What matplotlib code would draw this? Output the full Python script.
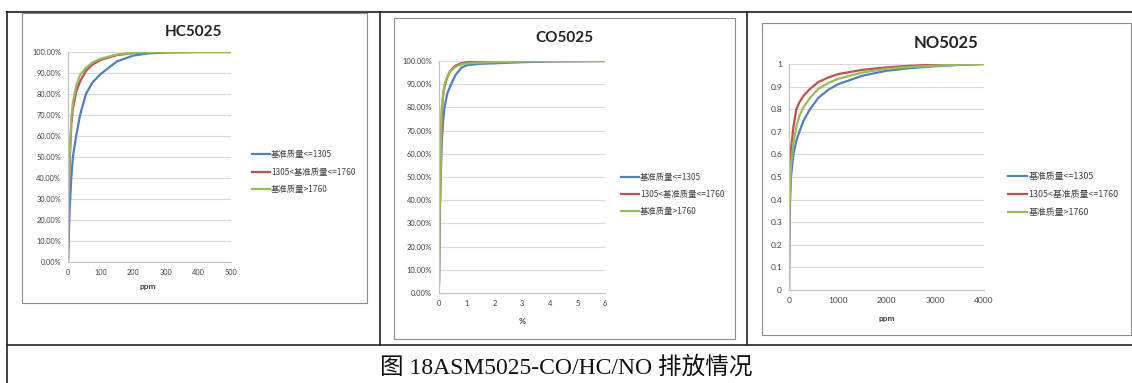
import numpy as np
import matplotlib
matplotlib.use("Agg")
from matplotlib import pyplot as plt
from matplotlib.patches import Rectangle
from matplotlib.lines import Line2D
from matplotlib.ticker import PercentFormatter

plt.rcParams['font.family'] = ['Lato', 'Noto Sans CJK SC', 'DejaVu Sans']

W, H = 1132, 383

series_names = ['基准质量<=1305', '1305<基准质量<=1760', '基准质量>1760']
colors = ['#4F81BD', '#C0504D', '#9BBB59']

# HC5025 (ppm)
hc_x = [0, 2, 5, 10, 15, 25, 37, 55, 75, 100, 150, 200, 250, 300, 400, 500]
hc_small = [0, 0.10, 0.25, 0.40, 0.50, 0.60, 0.70, 0.80, 0.855, 0.895, 0.955, 0.983, 0.994, 0.998, 1.0, 1.0]
hc_mid = [0, 0.30, 0.48, 0.65, 0.73, 0.81, 0.86, 0.91, 0.94, 0.962, 0.985, 0.995, 0.998, 0.999, 1.0, 1.0]
hc_big = [0, 0.32, 0.50, 0.68, 0.76, 0.84, 0.89, 0.925, 0.95, 0.968, 0.988, 0.996, 0.999, 1.0, 1.0, 1.0]

# CO5025 (%)
co_x = [0, 0.02, 0.05, 0.1, 0.15, 0.2, 0.3, 0.4, 0.5, 0.6, 0.8, 1.0, 1.5, 2, 3, 4, 5, 6]
co_small = [0.04, 0.30, 0.45, 0.65, 0.74, 0.80, 0.86, 0.89, 0.915, 0.94, 0.97, 0.982, 0.988, 0.99, 0.995, 0.998, 0.999, 1.0]
co_mid = [0.04, 0.32, 0.48, 0.78, 0.85, 0.89, 0.93, 0.955, 0.97, 0.98, 0.99, 0.995, 0.997, 0.998, 0.999, 1.0, 1.0, 1.0]
co_big = [0.04, 0.35, 0.50, 0.80, 0.86, 0.90, 0.935, 0.955, 0.965, 0.975, 0.985, 0.99, 0.993, 0.995, 0.998, 0.999, 1.0, 1.0]

# NO5025 (ppm)
no_x = [0, 5, 10, 20, 40, 90, 150, 212, 300, 431, 600, 800, 1000, 1500, 2000, 2500, 3000, 3500, 4000]
no_small = [0, 0.20, 0.30, 0.38, 0.50, 0.60, 0.66, 0.70, 0.75, 0.80, 0.85, 0.885, 0.91, 0.948, 0.97, 0.982, 0.99, 0.996, 1.0]
no_mid = [0, 0.30, 0.42, 0.52, 0.62, 0.72, 0.80, 0.83, 0.86, 0.89, 0.92, 0.94, 0.955, 0.974, 0.985, 0.992, 0.997, 0.999, 1.0]
no_big = [0, 0.25, 0.35, 0.45, 0.55, 0.65, 0.72, 0.77, 0.81, 0.85, 0.89, 0.915, 0.934, 0.962, 0.979, 0.987, 0.993, 0.997, 1.0]

caption = '图 18ASM5025-CO/HC/NO 排放情况'

fig = plt.figure(figsize=(W / 100, H / 100), dpi=100)


def fx(x):
    return x / W


def fy(y):
    return 1 - y / H


def hline(y, x0, x1, lw=1.2, c='#222222'):
    fig.add_artist(Line2D([fx(x0), fx(x1)], [fy(y), fy(y)], lw=lw, color=c))


def vline(x, y0, y1, lw=1.2, c='#222222'):
    fig.add_artist(Line2D([fx(x), fx(x)], [fy(y0), fy(y1)], lw=lw, color=c))


def box(x0, y0, x1, y1):
    fig.add_artist(Rectangle((fx(x0), fy(y1)), fx(x1 - x0), (y1 - y0) / H,
                             fill=False, ec='#8c8c8c', lw=0.8))


# table lines
hline(12, 7, W, lw=1.5, c='#444444')
vline(7, 12, H)
vline(380, 12, 345)
vline(747, 12, 345)
hline(345, 7, W)


def chart(box_px, ax_px, title, title_xy, tsize, xs, ys, xlim, xticks, ylim_fmt,
          xlabel, xlabel_xy, tick_fs, leg_xy, leg_fs):
    box(*box_px)
    x0, y0, x1, y1 = ax_px
    ax = fig.add_axes([fx(x0), fy(y1), fx(x1 - x0), (y1 - y0) / H])
    for y, c in zip(ys, colors):
        ax.plot(xs, y, color=c, lw=1.6)
    ax.set_xlim(*xlim)
    ax.set_ylim(0, 1)
    ax.set_xticks(xticks)
    ax.set_yticks(np.arange(0, 1.01, 0.1))
    if ylim_fmt == 'pct':
        ax.yaxis.set_major_formatter(PercentFormatter(1.0, decimals=2))
    else:
        ax.set_yticklabels(['0', '0.1', '0.2', '0.3', '0.4', '0.5', '0.6', '0.7', '0.8', '0.9', '1'])
    ax.grid(axis='y', color='#d9d9d9', lw=0.8)
    ax.set_axisbelow(True)
    for s in ['top', 'right']:
        ax.spines[s].set_visible(False)
    for s in ['left', 'bottom']:
        ax.spines[s].set_color('#bfbfbf')
        ax.spines[s].set_linewidth(0.8)
    ax.tick_params(length=0, labelsize=tick_fs, labelcolor='#404040', pad=5)
    fig.text(fx(title_xy[0]), fy(title_xy[1]), title, ha='center', va='center',
             fontsize=tsize, fontweight='bold', color='#222222')
    fig.text(fx(xlabel_xy[0]), fy(xlabel_xy[1]), xlabel, ha='center', va='center',
             fontsize=6, fontweight='bold', color='#404040')
    handles = [Line2D([], [], color=c, lw=1.6) for c in colors]
    fig.legend(handles, series_names, loc='center left',
               bbox_to_anchor=(fx(leg_xy[0]), fy(leg_xy[1])), frameon=False,
               fontsize=leg_fs, handlelength=2.1, handletextpad=0.2,
               labelspacing=1.0, borderpad=0, borderaxespad=0,
               prop={'family': ['Noto Sans CJK SC', 'DejaVu Sans'], 'size': leg_fs},
               labelcolor='#404040')
    return ax


chart((22, 13, 367, 303), (68, 52, 231, 262), 'HC5025', (194, 32), 11,
      hc_x, [hc_small, hc_mid, hc_big], (0, 500), [0, 100, 200, 300, 400, 500], 'pct',
      'ppm', (148, 287), 5.3, (252, 172), 6.0)

chart((394, 18, 735, 339), (439, 61, 605, 293), 'CO5025', (564, 38), 11,
      co_x, [co_small, co_mid, co_big], (0, 6), [0, 1, 2, 3, 4, 5, 6], 'pct',
      '%', (522, 322), 5.4, (621, 194.5), 6.0)

chart((762, 23, 1131, 335), (789, 64, 984, 290), 'NO5025', (946, 43), 12,
      no_x, [no_small, no_mid, no_big], (0, 4000), [0, 1000, 2000, 3000, 4000], 'num',
      'ppm', (887, 318), 6.0, (1008, 194.5), 6.4)

fig.text(fx(566), fy(367), caption, ha='center', va='center', fontsize=17,
         family=['Liberation Serif', 'Noto Sans CJK SC'], color='#111111')

fig.savefig('out.png', dpi=100, facecolor='white')
